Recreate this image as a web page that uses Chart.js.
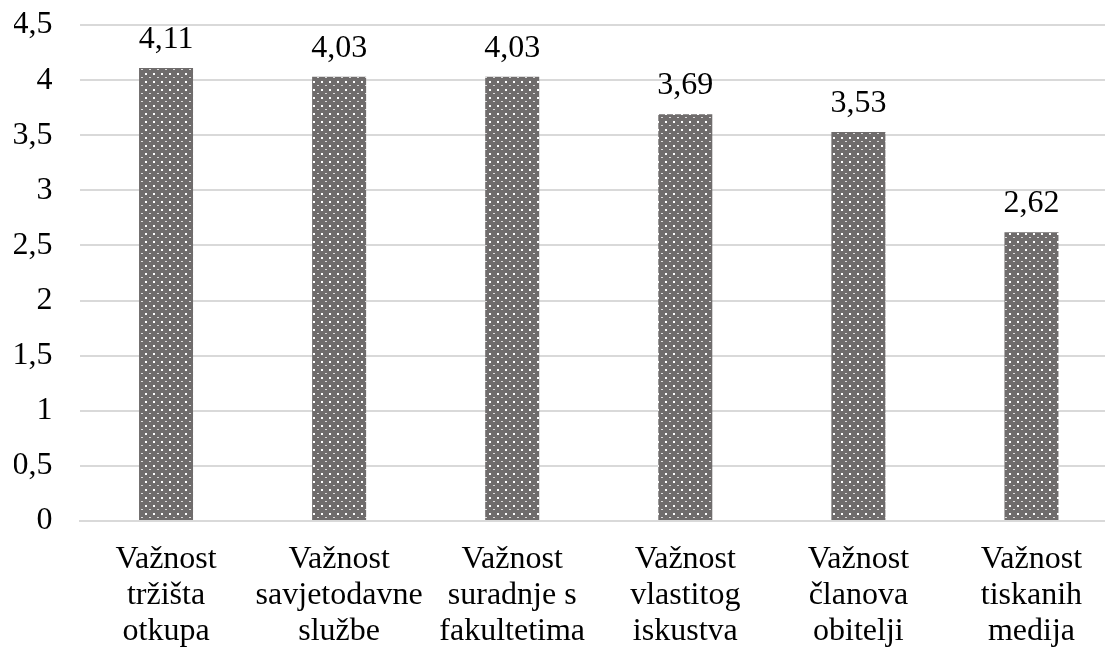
<!DOCTYPE html>
<html>
<head>
<meta charset="utf-8">
<script src="https://cdn.jsdelivr.net/npm/chart.js@4"></script>
<style>
  html, body { margin: 0; padding: 0; background: #fff; overflow: hidden; }
  #wrap { width: 1118px; height: 647px; }
</style>
</head>
<body>
<div id="wrap"><canvas id="grafikon"></canvas></div>
<script>
// podaci
const kategorije = [
  ["Važnost", "tržišta", "otkupa"],
  ["Važnost", "savjetodavne", "službe"],
  ["Važnost", "suradnje s", "fakultetima"],
  ["Važnost", "vlastitog", "iskustva"],
  ["Važnost", "članova", "obitelji"],
  ["Važnost", "tiskanih", "medija"]
];
const vrijednosti = [4.11, 4.03, 4.03, 3.69, 3.53, 2.62];

const FONT = "'Liberation Serif', 'Times New Roman', serif";
const zarez = (v) => String(v).replace(".", ",");

// tockasti uzorak za stupce
function napraviUzorak() {
  const c = document.createElement("canvas");
  c.width = 8;
  c.height = 8;
  const g = c.getContext("2d");
  g.fillStyle = "#6f6c6c";
  g.fillRect(0, 0, 8, 8);
  g.fillStyle = "#ffffff";
  g.fillRect(1, 1, 2, 2);
  g.fillStyle = "rgba(255,255,255,0.75)";
  g.fillRect(5, 5, 2, 1);
  return g.createPattern(c, "repeat");
}

// oznake vrijednosti iznad stupaca
const oznakePlugin = {
  id: "oznake",
  afterDatasetsDraw(chart) {
    const ctx = chart.ctx;
    const meta = chart.getDatasetMeta(0);
    ctx.save();
    ctx.font = "32px " + FONT;
    ctx.fillStyle = "#000";
    ctx.textAlign = "center";
    ctx.textBaseline = "alphabetic";
    meta.data.forEach((bar, i) => {
      ctx.fillText(zarez(vrijednosti[i]), bar.x, bar.y - 20);
    });
    ctx.restore();
  }
};

new Chart(document.getElementById("grafikon"), {
  type: "bar",
  data: {
    labels: kategorije,
    datasets: [
      {
        data: vrijednosti,
        backgroundColor: napraviUzorak(),
        borderWidth: 0,
        categoryPercentage: 1,
        barPercentage: 0.312
      }
    ]
  },
  options: {
    responsive: true,
    maintainAspectRatio: false,
    animation: false,
    layout: { padding: { top: 25, left: 14, right: 0, bottom: 0 } },
    plugins: {
      legend: { display: false },
      tooltip: { enabled: false }
    },
    scales: {
      x: {
        grid: { display: false },
        border: { color: "#d9d9d9", width: 2 },
        ticks: {
          color: "#000",
          font: { family: FONT, size: 32, lineHeight: 1.125 },
          padding: 13,
          maxRotation: 0,
          autoSkip: false
        },
        afterFit: (s) => { s.height = 126; }
      },
      y: {
        min: 0,
        max: 4.5,
        grid: { color: "#d9d9d9", lineWidth: 2, drawTicks: false },
        border: { display: false },
        ticks: {
          stepSize: 0.5,
          color: "#000",
          font: { family: FONT, size: 32 },
          padding: 27,
          callback: (v) => zarez(v)
        },
        afterFit: (s) => {
          s.width = 65.5;
          s.paddingTop = 0;
          s.paddingBottom = 0;
        }
      }
    }
  },
  plugins: [oznakePlugin]
});
</script>
</body>
</html>
